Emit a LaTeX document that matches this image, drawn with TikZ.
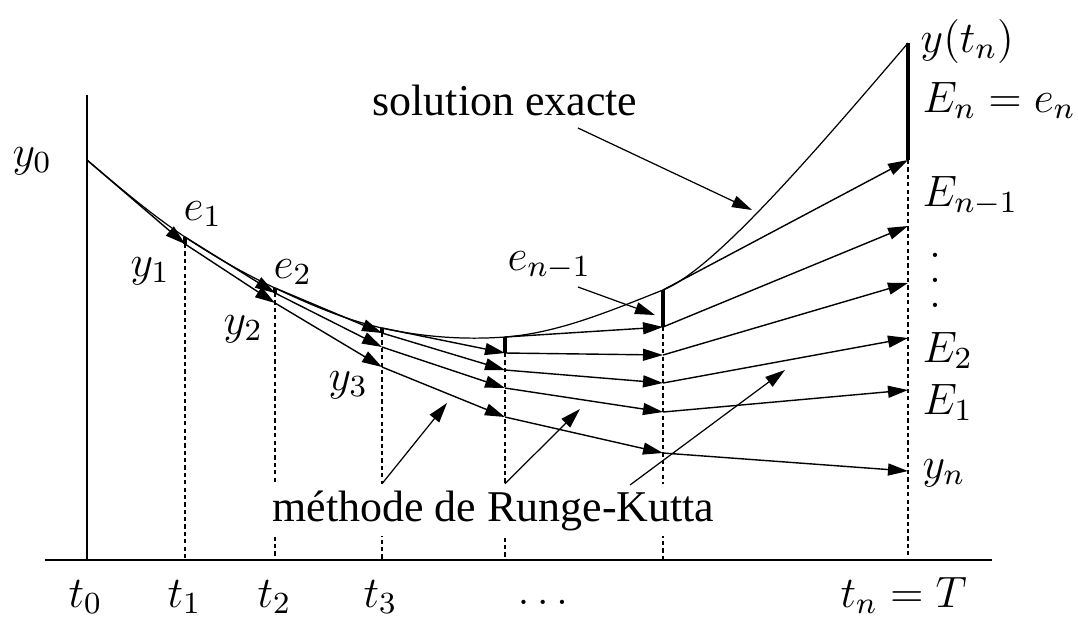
\RequirePackage{fix-cm}
\documentclass[tikz,border=0pt]{standalone}
\usepackage[no-math]{fontspec}
\setmainfont{Liberation Serif}
\usetikzlibrary{arrows.meta}

\tikzset{
  >={Triangle[length=2mm,width=1.2mm]},
  axe/.style={line width=0.6pt},
  traj/.style={->,line width=0.4pt},
  fleche/.style={->,line width=0.35pt},
  erreur/.style={line width=1.2pt},
  pointille/.style={line width=0.35pt,dash pattern=on 1.2pt off 0.9pt},
  lab/.style={inner sep=0pt,font=\fontsize{12.5}{15}\selectfont},
}

\begin{document}
\begin{tikzpicture}[x=0.1mm,y=-0.1mm]
\useasboundingbox (0,0) rectangle (1078,619);

% Solution exacte aux instants t_k
\foreach \nom/\x/\y in {ex0/87/160, ex1/185/237, ex2/275/288, ex3/382/328,
                        ex4/505/337, ex5/663/290, ex6/908/43}
  \coordinate (\nom) at (\x,\y);

% Valeurs calculees (trajectoire k au temps j)
\foreach \nom/\x/\y in {
a01/185/244, a02/275/303, a03/382/367, a04/505/417, a05/663/453, a06/908/471,
a12/275/293, a13/382/347, a14/505/388, a15/663/412, a16/908/390,
a23/382/333, a24/505/370, a25/663/383, a26/908/338,
a34/505/353, a35/663/355, a36/908/283,
a45/663/327, a46/908/226,
a56/908/160}
  \coordinate (\nom) at (\x,\y);

% Axes
\coordinate (O) at (87,560);
\draw[axe] (45,560) -- (992,560);
\draw[axe] (87,95) -- (O);

% Pointilles
\foreach \p in {a01,a12,a23,a34,a45,a56}
  \draw[pointille] (\p) -- (\p |- O);

% Courbe exacte
\draw[line width=0.35pt] (ex0) .. controls (120,188) and (152,215) .. (ex1)
  .. controls (215,257) and (245,274) .. (ex2)
  .. controls (311,305) and (346,320) .. (ex3)
  .. controls (423,337) and (464,340) .. (ex4)
  .. controls (558,333) and (610,311) .. (ex5)
  .. controls (713,270) and (808,160) .. (ex6);

% Trajectoires de Runge-Kutta
\foreach \de/\a in {
ex0/a01, a01/a02, a02/a03, a03/a04, a04/a05, a05/a06,
ex1/a12, a12/a13, a13/a14, a14/a15, a15/a16,
ex2/a23, a23/a24, a24/a25, a25/a26,
ex3/a34, a34/a35, a35/a36,
ex4/a45, a45/a46,
ex5/a56}
{
\draw[traj] (\de) -- (\a);
}

% Erreurs
\foreach \de/\a in {ex1/a01, ex2/a12, ex3/a23, ex4/a34, ex5/a45, ex6/a56}
  \draw[erreur] (\de) -- (\a);

% Etiquettes
\node[lab,anchor=base west] (ly0) at (12,166) {$y_0$};
\node[lab,anchor=base west] (le1) at (183,220) {$e_1$};
\node[lab,anchor=base west] (ly1) at (130,276) {$y_1$};
\node[lab,anchor=base west] (le2) at (273,278) {$e_2$};
\node[lab,anchor=base west] (ly2) at (223,334) {$y_2$};
\node[lab,anchor=base west] (ly3) at (328,390) {$y_3$};
\node[lab,anchor=base west] (lenm) at (507,270) {$e_{n-1}$};
\node[lab,anchor=base west] (lytn) at (920,52) {$y(t_n)$};
\node[lab,anchor=base west] (lEn) at (922,112) {$E_n=e_n$};
\node[lab,anchor=base west] (lEnm) at (922,206) {$E_{n-1}$};
\node[lab] (lvdots) at (935,280)
  {\vbox{\baselineskip=2.5mm\lineskiplimit=-10pt\hbox{$.$}\hbox{$.$}\hbox{$.$}}};
\node[lab,anchor=base west] (lE2) at (922,362) {$E_2$};
\node[lab,anchor=base west] (lE1) at (922,414) {$E_1$};
\node[lab,anchor=base west] (lyn) at (922,478) {$y_n$};

\node[lab,anchor=base west] (lt0) at (68,607) {$t_0$};
\node[lab,anchor=base west] (lt1) at (167,607) {$t_1$};
\node[lab,anchor=base west] (lt2) at (257,607) {$t_2$};
\node[lab,anchor=base west] (lt3) at (363,607) {$t_3$};
\node[lab,anchor=base west] (ldots) at (517,604) {$\dots$};
\node[lab,anchor=base west] (ltn) at (840,607) {$t_n=T$};

% Legendes
\node[lab,anchor=base west] (se) at (372,115) {solution exacte};
\coordinate (se1) at (578,128);
\coordinate (se2) at (752,210);
\draw[fleche] (se1) -- (se2);

\coordinate (en1) at (578,287);
\coordinate (en2) at (655,315);
\draw[fleche] (en1) -- (en2);

\node[lab,anchor=base west,fill=white,inner ysep=0.6mm] (rk) at (272,521)
  {méthode de Runge-Kutta};
\coordinate (rk1) at (447,403);
\coordinate (rk2) at (580,409);
\coordinate (rk3a) at (630,485);
\coordinate (rk3) at (785,370);
\draw[fleche] (rk.north -| ex3) -- (rk1);
\draw[fleche] (rk.north -| ex4) -- (rk2);
\draw[fleche] (rk3a) -- (rk3);

\end{tikzpicture}
\end{document}
